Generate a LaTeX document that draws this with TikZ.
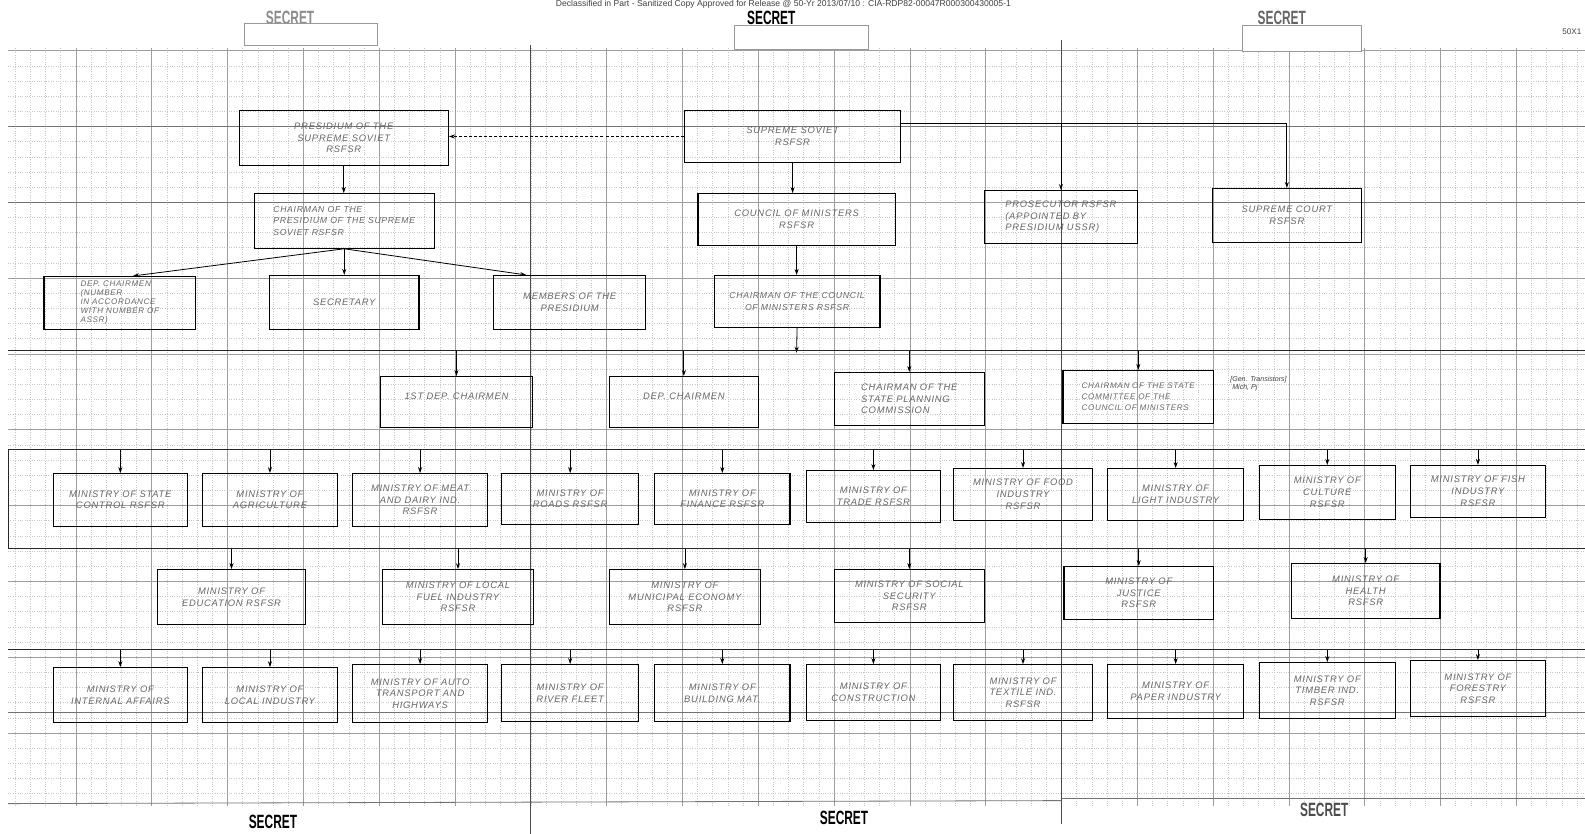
\documentclass[tikz,border=0pt]{standalone}
\usepackage{fontspec}
\usepackage{graphicx}
\setmainfont{Liberation Sans}
\newfontfamily\handfont[LetterSpace=8]{Liberation Sans}
\usetikzlibrary{arrows.meta,calc}

\newcommand{\stamp}[1]{\scalebox{0.62}[1]{\fontsize{19}{19}\selectfont\bfseries #1}}

\tikzset{
 bx/.style={draw=black, line width=1.1pt, align=center, inner sep=3pt, font=\handfont\itshape\fontsize{9.3}{11.5}\selectfont, text=black!60},
 arr/.style={-{Stealth[length=6pt,width=4pt]}, line width=0.8pt, draw=black},
 busln/.style={line width=1pt, draw=black!85},
 scanln/.style={line width=0.8pt, draw=black!55},
 minorln/.style={draw=black!22, line width=0.35pt, dotted},
 majorln/.style={draw=black!38, line width=0.45pt},
 seamln/.style={draw=black!70, line width=0.7pt},
 sanit/.style={draw=black!40, line width=0.6pt, fill=white},
 stamptxt/.style={inner sep=0pt},
}

% \Bx[opt]{name}{x1}{y1}{x2}{y2}{text}
\newcommand{\Bx}[7][]{\node[bx, #1, anchor=north west, minimum width={(#5-#3)*1pt}, minimum height={(#6-#4)*1pt}] (#2) at (#3,#4) {#7};}

\begin{document}
\begin{tikzpicture}[x=1pt, y=-1pt]
\useasboundingbox (0,0) rectangle (1568,825);

% graph paper
\begin{scope}
\clip (8,47) rectangle (1568,797);
\foreach \x in {0,15,...,1575} \draw[minorln] (\x,47) -- (\x,797);
\foreach \y in {50,65,...,800} \draw[minorln] (8,\y) -- (1568,\y);
\foreach \x in {75,150,...,1500} \draw[majorln] (\x,47) -- (\x,797);
\foreach \y in {50,125,...,800} \draw[majorln] (8,\y) -- (1568,\y);
\end{scope}

% scanner / ruled lines
\draw[scanln] (8,125) -- (1568,125);
\draw[scanln] (8,200) -- (525,200);
\draw[scanln] (1050,200) -- (1568,200);
\draw[scanln] (8,705) -- (1568,705);
\draw[scanln] (8,795) -- (1050,792);
\draw[scanln] (1050,790) -- (1568,790);
\draw[seamln] (525,45) -- (525,825);
\draw[seamln] (1050,40) -- (1050,815);

% header
\node[font=\fontsize{8.5}{8.5}\selectfont, text=black!75, anchor=base, inner sep=0pt] (hdr) at (775,6.6) {Declassified in Part - Sanitized Copy Approved for Release @ 50-Yr 2013/07/10 : CIA-RDP82-00047R000300430005-1};
\node[font=\fontsize{8}{8}\selectfont, text=black!75, inner sep=0pt] (fx) at (1555,31) {50X1};

% SECRET stamps and sanitized boxes
\node[stamptxt, text=black!45] (s1) at (287,18) {\stamp{SECRET}};
\node[stamptxt] (s2) at (763,18) {\stamp{SECRET}};
\node[stamptxt, text=black!60] (s3) at (1268,18) {\stamp{SECRET}};
\node[stamptxt] (s4) at (270,813) {\stamp{SECRET}};
\node[stamptxt] (s5) at (835,809) {\stamp{SECRET}};
\node[stamptxt, text=black!70] (s6) at (1310,801) {\stamp{SECRET}};
\node[sanit, anchor=north west, minimum width=132pt, minimum height=22pt] (z1) at (241,23) {};
\node[sanit, anchor=north west, minimum width=133pt, minimum height=23pt] (z2) at (726,25) {};
\node[sanit, anchor=north west, minimum width=117pt, minimum height=25pt] (z3) at (1229,25) {};

% ---- top structure ----
\Bx{A}{236}{109}{443}{163}{PRESIDIUM OF THE\\SUPREME SOVIET\\RSFSR}
\Bx[align=left, font=\handfont\itshape\fontsize{8.6}{11.5}\selectfont]{B}{251}{191}{429}{245}{CHAIRMAN OF THE\\PRESIDIUM OF THE SUPREME\\SOVIET RSFSR}
\Bx[align=left, font=\handfont\itshape\fontsize{8}{9}\selectfont]{C}{43}{273}{193}{325}{DEP. CHAIRMEN\\(NUMBER\\IN ACCORDANCE\\WITH NUMBER OF\\ASSR)}
\Bx{D}{266}{272}{414}{325}{SECRETARY}
\Bx{E}{488}{272}{638}{325}{MEMBERS OF THE\\PRESIDIUM}

\Bx{F}{677}{109}{890}{160}{SUPREME SOVIET\\RSFSR}
\Bx{G}{690}{191}{885}{242}{COUNCIL OF MINISTERS\\RSFSR}
\Bx[font=\handfont\itshape\fontsize{8.6}{11.5}\selectfont]{H}{706}{272}{870}{323}{CHAIRMAN OF THE COUNCIL\\OF MINISTERS RSFSR}

\Bx[align=left]{M}{973}{188}{1125}{240}{PROSECUTOR RSFSR\\(APPOINTED BY\\PRESIDIUM USSR)}
\Bx{N}{1199}{186}{1346}{239}{SUPREME COURT\\RSFSR}

\Bx[align=left]{I}{376}{372}{526}{422}{1ST DEP. CHAIRMEN\\\mbox{}}
\Bx{J}{602}{372}{750}{422}{DEP. CHAIRMEN\\\mbox{}}
\Bx[align=left]{K}{825}{368}{973}{420}{CHAIRMAN OF THE\\STATE PLANNING\\COMMISSION}
\Bx[align=left, font=\handfont\itshape\fontsize{8}{10.5}\selectfont]{L}{1051}{366}{1200}{418}{CHAIRMAN OF THE STATE\\COMMITTEE OF THE\\COUNCIL OF MINISTERS}
\node[font=\itshape\fontsize{7}{8}\selectfont, text=black!75, align=left, inner sep=1pt] (note) at (1245,380) {[Gen. Transistors]\\\ Mich, Pj};

% ---- ministries row 1 ----
\Bx{r1a}{52}{468}{185}{520}{MINISTRY OF STATE\\CONTROL RSFSR}
\Bx{r1b}{200}{468}{333}{520}{MINISTRY OF\\AGRICULTURE}
\Bx{r1c}{348}{468}{482}{520}{MINISTRY OF MEAT\\AND DAIRY IND.\\RSFSR}
\Bx{r1d}{496}{468}{631}{518}{MINISTRY OF\\ROADS RSFSR}
\Bx{r1e}{647}{468}{781}{518}{MINISTRY OF\\FINANCE RSFSR}
\Bx{r1f}{797}{465}{930}{516}{MINISTRY OF\\TRADE RSFSR}
\Bx{r1g}{943}{463}{1080}{514}{MINISTRY OF FOOD\\INDUSTRY\\RSFSR}
\Bx{r1h}{1095}{463}{1230}{514}{MINISTRY OF\\LIGHT INDUSTRY}
\Bx{r1i}{1245}{460}{1380}{513}{MINISTRY OF\\CULTURE\\RSFSR}
\Bx{r1j}{1395}{460}{1528}{511}{MINISTRY OF FISH\\INDUSTRY\\RSFSR}

% ---- ministries row 2 ----
\Bx{r2a}{155}{563}{302}{617}{MINISTRY OF\\EDUCATION RSFSR}
\Bx{r2b}{378}{563}{527}{617}{MINISTRY OF LOCAL\\FUEL INDUSTRY\\RSFSR}
\Bx{r2c}{602}{563}{752}{617}{MINISTRY OF\\MUNICIPAL ECONOMY\\RSFSR}
\Bx{r2d}{825}{563}{973}{615}{MINISTRY OF SOCIAL\\SECURITY\\RSFSR}
\Bx{r2e}{1052}{560}{1200}{612}{MINISTRY OF\\JUSTICE\\RSFSR}
\Bx{r2f}{1277}{557}{1424}{611}{MINISTRY OF\\HEALTH\\RSFSR}

% ---- ministries row 3 ----
\Bx{r3a}{52}{660}{185}{714}{MINISTRY OF\\INTERNAL AFFAIRS}
\Bx{r3b}{200}{660}{333}{714}{MINISTRY OF\\LOCAL INDUSTRY}
\Bx{r3c}{348}{657}{482}{714}{MINISTRY OF AUTO\\TRANSPORT AND\\HIGHWAYS}
\Bx{r3d}{496}{657}{631}{713}{MINISTRY OF\\RIVER FLEET}
\Bx{r3e}{647}{657}{781}{713}{MINISTRY OF\\BUILDING MAT.}
\Bx{r3f}{797}{657}{930}{712}{MINISTRY OF\\CONSTRUCTION}
\Bx{r3g}{943}{657}{1080}{712}{MINISTRY OF\\TEXTILE IND.\\RSFSR}
\Bx{r3h}{1095}{657}{1230}{710}{MINISTRY OF\\PAPER INDUSTRY}
\Bx{r3i}{1245}{655}{1380}{710}{MINISTRY OF\\TIMBER IND.\\RSFSR}
\Bx{r3j}{1395}{653}{1528}{708}{MINISTRY OF\\FORESTRY\\RSFSR}

% ---- connectors, top ----
\draw[arr, densely dashed] (F.west) -- (F.west -| A.east);
\draw[arr] (A.south) -- (A.south |- B.north);
\draw[arr] (B.south) -- (B.south |- D.north);
\draw[arr] (B.south) -- ([xshift=13pt]C.north);
\draw[arr] (B.south) -- ([xshift=-43pt]E.north);
\draw[arr] (F.south) -- (F.south |- G.north);
\draw[arr] (G.south) -- (G.south |- H.north);
\coordinate (tr) at (890,122);
\draw[arr] (tr) -| (N.north);
\draw[arr] (tr -| M.north) -- (M.north);

% bus under Chairman of Council of Ministers
\coordinate (b0) at (788,347);
\draw[arr] (H.south) -- ([yshift=-2pt]b0);
\draw[busln] (8,347) -- (1568,347);
\foreach \n in {I,J,K,L} \draw[arr] (\n.north |- b0) -- (\n.north);

% ministry buses and bracket
\coordinate (b1) at (8,445);
\coordinate (b2) at (8,543);
\coordinate (b3) at (8,643);
\draw[busln] (1568,445) -- (b1) -- (b2) -- (1568,543);
\draw[busln] (b3) -- (1568,643);
\foreach \n in {r1a,r1b,r1c,r1d,r1e,r1f,r1g,r1h,r1i,r1j} \draw[arr] (\n.north |- b1) -- (\n.north);
\foreach \n in {r2a,r2b,r2c,r2d,r2e,r2f} \draw[arr] (\n.north |- b2) -- (\n.north);
\foreach \n in {r3a,r3b,r3c,r3d,r3e,r3f,r3g,r3h,r3i,r3j} \draw[arr] (\n.north |- b3) -- (\n.north);
\end{tikzpicture}
\end{document}
